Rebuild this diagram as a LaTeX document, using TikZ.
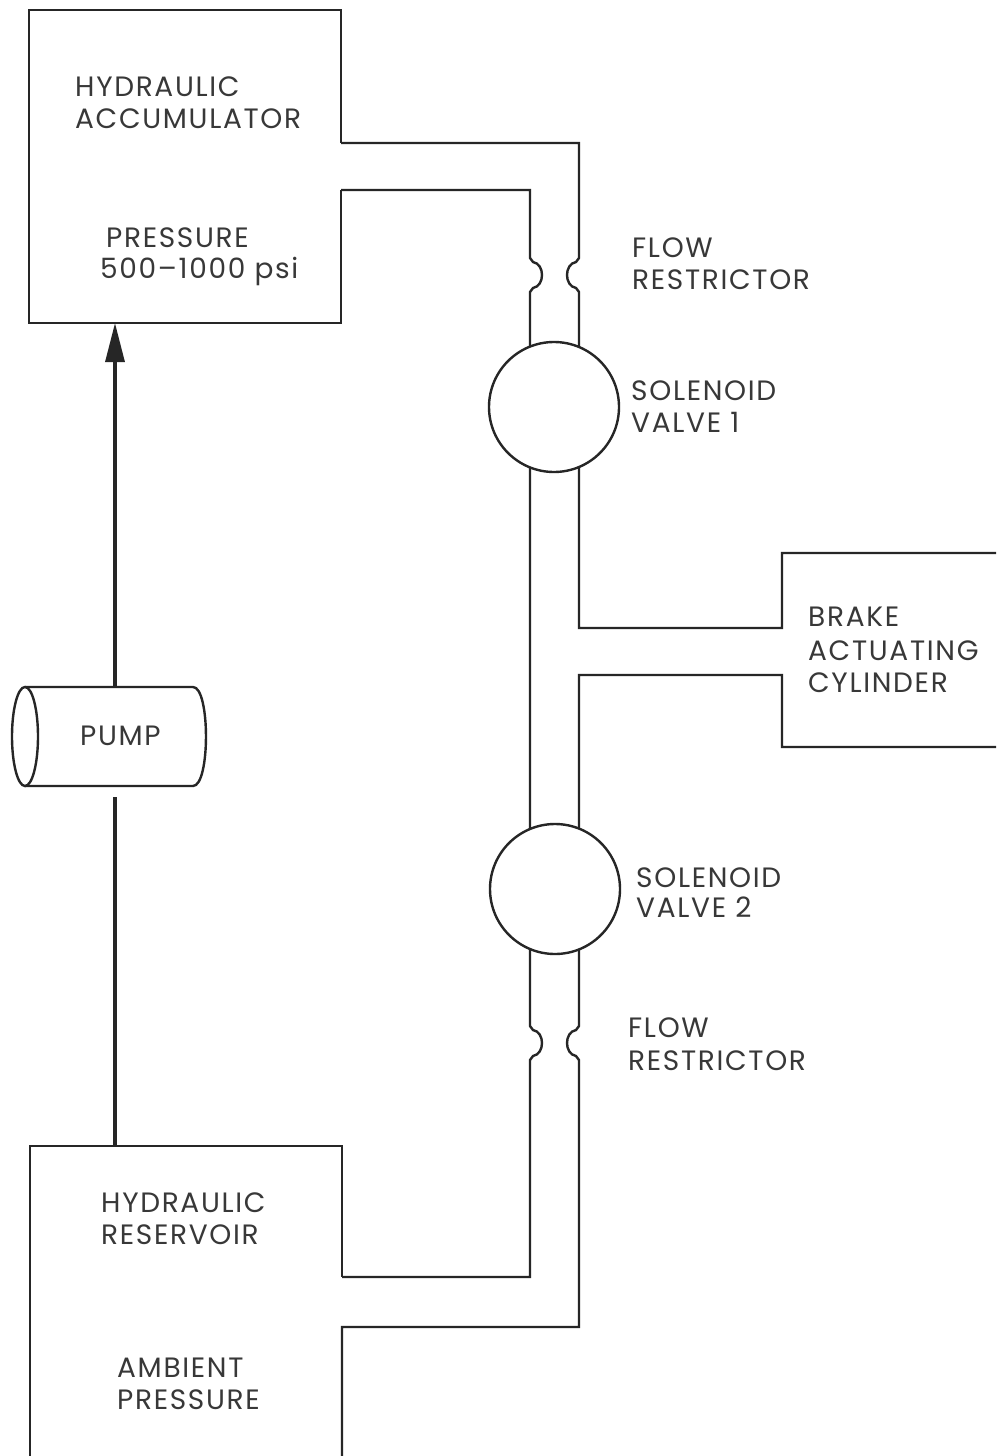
\documentclass[tikz,border=0pt]{standalone}
\usepackage{fontspec}
\setmainfont{Poppins}[LetterSpace=6]
\usetikzlibrary{arrows.meta}
\definecolor{ink}{HTML}{262626}
\definecolor{txt}{HTML}{383838}
\begin{document}
\begin{tikzpicture}[x=1pt,y=-1pt,line join=miter,
  wall/.style={draw=ink,line width=2.4pt},
  valve/.style={circle,draw=ink,fill=white,line width=2.4pt,minimum size=130pt,inner sep=0pt},
  lbl/.style={anchor=base west,inner sep=0pt,text=txt,font=\fontsize{28}{32}\selectfont}]
\useasboundingbox (0,0) rectangle (996,1456);
\fill[white] (0,0) rectangle (996,1456);
\clip (0,0) rectangle (996,1456);

% coordinates
\coordinate (accbot) at (115,323);
\coordinate (pumptop) at (115,687);
\coordinate (pumpbot) at (115,797);
\coordinate (restop) at (115,1146);

% hydraulic accumulator
\draw[wall] (341,143) -- (341,10) -- (29,10) -- (29,323) -- (341,323) -- (341,190);

% hydraulic reservoir
\draw[wall] (30,1460) -- (30,1146) -- (342,1146) -- (342,1277);

% left pipe wall
\draw[wall] (341,190) -- (530,190) -- (530,258) -- (533,262)
  .. controls (545,264) and (545,286) .. (533,288) -- (530,292)
  -- (530,1026) -- (533,1030)
  .. controls (545,1032) and (545,1054) .. (533,1056) -- (530,1060)
  -- (530,1277) -- (342,1277);

% right pipe wall, upper part to brake cylinder
\draw[wall] (341,143) -- (579,143) -- (579,258) -- (576,262)
  .. controls (564,264) and (564,286) .. (576,288) -- (579,292)
  -- (579,628) -- (782,628) -- (782,553) -- (1000,553);

% right pipe wall, lower part from brake cylinder
\draw[wall] (1000,747) -- (782,747) -- (782,675) -- (579,675)
  -- (579,1026) -- (576,1030)
  .. controls (564,1032) and (564,1054) .. (576,1056) -- (579,1060)
  -- (579,1327) -- (342,1327) -- (342,1460);

% solenoid valves
\node[valve] (v1) at (554,407) {};
\node[valve] (v2) at (555,889) {};

% pump
\draw[wall] (25,687) -- (193,687) .. controls (210.3,687) and (210.3,786) .. (193,786) -- (25,786);
\draw[wall] (25,736.5) ellipse [x radius=13,y radius=49.5];

% pump lines
\draw[draw=ink,line width=3.2pt,-{Triangle[length=39pt,width=19pt]}] (pumptop) -- (accbot);
\draw[draw=ink,line width=3.2pt] (restop) -- (pumpbot);

% labels
\node[lbl] (t1) at (75,96) {HYDRAULIC};
\node[lbl] (t2) at (75,128) {ACCUMULATOR};
\node[lbl] (t3) at (106,247) {PRESSURE};
\node[lbl] (t4) at (100,278) {500–1000 psi};
\node[lbl] (t5) at (632,257) {FLOW};
\node[lbl] (t6) at (632,289) {RESTRICTOR};
\node[lbl] (t7) at (631,400) {SOLENOID};
\node[lbl] (t8) at (631,432) {VALVE 1};
\node[lbl] (t9) at (808,626) {BRAKE};
\node[lbl] (t10) at (808,660) {ACTUATING};
\node[lbl] (t11) at (808,692) {CYLINDER};
\node[lbl] (pump) at (80,745) {PUMP};
\node[lbl] (t12) at (636,887) {SOLENOID};
\node[lbl] (t13) at (636,917) {VALVE 2};
\node[lbl] (t14) at (628,1037) {FLOW};
\node[lbl] (t15) at (628,1070) {RESTRICTOR};
\node[lbl] (t16) at (101,1212) {HYDRAULIC};
\node[lbl] (t17) at (101,1244) {RESERVOIR};
\node[lbl] (t18) at (117,1377) {AMBIENT};
\node[lbl] (t19) at (117,1409) {PRESSURE};
\end{tikzpicture}
\end{document}
